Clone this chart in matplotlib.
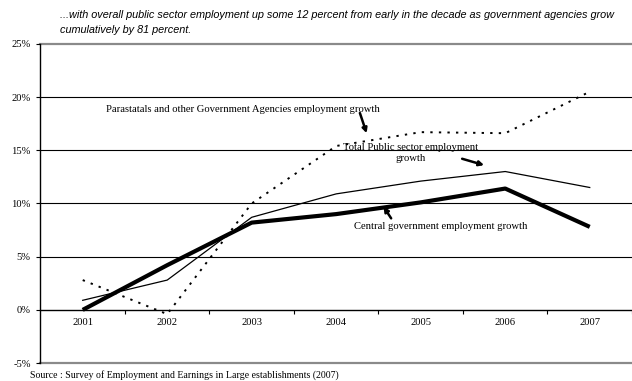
import matplotlib.pyplot as plt
from matplotlib.ticker import FuncFormatter

years = ['2001', '2002', '2003', '2004', '2005', '2006', '2007']
central = [0.0, 4.2, 8.2, 9.0, 10.1, 11.4, 7.8]
total = [0.9, 2.8, 8.7, 10.9, 12.1, 13.0, 11.5]
parastatals = [2.8, -0.4, 10.0, 15.4, 16.7, 16.6, 20.5]

serif = 'Liberation Serif'

fig = plt.figure(figsize=(6.32, 3.81), dpi=100)
ax = fig.add_axes([0.064, 0.047, 0.936, 0.838])

x = range(len(years))
ax.plot(x, parastatals, color='black', lw=1.4, ls=(0, (1.2, 3.2)), zorder=3)
ax.plot(x, total, color='black', lw=0.9, zorder=3)
ax.plot(x, central, color='black', lw=3.0, solid_capstyle='butt', zorder=4)

ax.set_xlim(-0.5, 6.5)
ax.set_ylim(-5, 25)

# horizontal rules
for v in [5, 10, 15, 20]:
    ax.axhline(v, color='black', lw=0.8, zorder=1)
for v in [25, -5]:
    ax.axhline(v, color='#8a8a8a', lw=1.6, zorder=1, clip_on=False)

for s in ['top', 'right']:
    ax.spines[s].set_visible(False)
ax.spines['left'].set_linewidth(1.0)
ax.spines['bottom'].set_position(('data', 0))
ax.spines['bottom'].set_linewidth(1.0)

ax.set_yticks(range(-5, 26, 5))
ax.yaxis.set_major_formatter(FuncFormatter(lambda v, p: '%d%%' % v))
ax.tick_params(axis='y', length=3, width=0.8, pad=4, labelsize=7.6)

ax.set_xticks(list(x))
ax.set_xticklabels(years)
ax.set_xticks([i + 0.5 for i in x], minor=True)
ax.tick_params(axis='x', which='major', length=0, pad=6, labelsize=7.6)
ax.tick_params(axis='x', which='minor', length=3, width=0.8, direction='out')

for lbl in ax.get_xticklabels() + ax.get_yticklabels():
    lbl.set_fontfamily(serif)

# series labels with pointers
ax.text(0.274, 18.8, 'Parastatals and other Government Agencies employment growth',
        fontsize=7.7, family=serif, va='center', ha='left')
ax.text(3.88, 14.7, 'Total Public sector employment\ngrowth', fontsize=7.7,
        family=serif, va='center', ha='center', linespacing=1.3)
ax.text(4.24, 7.8, 'Central government employment growth', fontsize=7.7,
        family=serif, va='center', ha='center')

arrow = dict(arrowstyle='-|>', lw=1.8, color='black', mutation_scale=7,
             shrinkA=0, shrinkB=0)
ax.annotate('', xy=(3.36, 16.6), xytext=(3.28, 18.5), arrowprops=arrow)
ax.annotate('', xy=(4.75, 13.6), xytext=(4.49, 14.2), arrowprops=arrow)
ax.annotate('', xy=(3.56, 9.7), xytext=(3.65, 8.6), arrowprops=arrow)

fig.text(60 / 632, 1 - 15 / 381,
         '...with overall public sector employment up some 12 percent from early in the decade as government agencies grow',
         fontsize=7.8, style='italic', family='Liberation Sans', va='center', ha='left')
fig.text(60 / 632, 1 - 30 / 381, 'cumulatively by 81 percent.',
         fontsize=7.8, style='italic', family='Liberation Sans', va='center', ha='left')

fig.text(30 / 632, 1 - 375 / 381,
         'Source : Survey of Employment and Earnings in Large establishments (2007)',
         fontsize=7.1, family=serif, va='center', ha='left')

fig.savefig('out.png', dpi=100)
